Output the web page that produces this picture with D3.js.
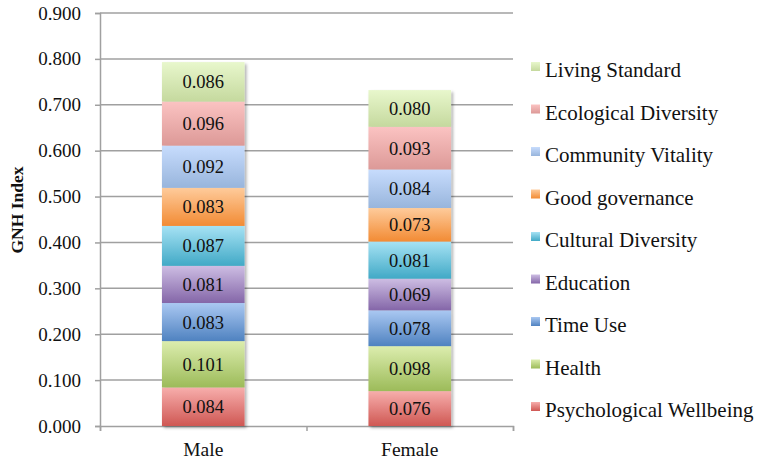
<!DOCTYPE html>
<html>
<head>
<meta charset="utf-8">
<script src="https://cdn.jsdelivr.net/npm/d3@7"></script>
<style>
  body { margin: 0; background: #fff; }
  svg text { font-family: "Liberation Serif", "DejaVu Serif", serif; fill: #111; }
</style>
</head>
<body>
<svg id="chart" width="758" height="462"></svg>
<script>
'use strict';

const categories = ['Male', 'Female'];
const domains = ['Psychological Wellbeing', 'Health', 'Time Use', 'Education', 'Cultural Diversity',
  'Good governance', 'Community Vitality', 'Ecological Diversity', 'Living Standard'];
const maleValues = [0.084, 0.101, 0.083, 0.081, 0.087, 0.083, 0.092, 0.096, 0.086];
const femaleValues = [0.076, 0.098, 0.078, 0.069, 0.081, 0.073, 0.084, 0.093, 0.080];
const yTicks = [0, 0.1, 0.2, 0.3, 0.4, 0.5, 0.6, 0.7, 0.8, 0.9];

// top / bottom colours of each segment gradient
const palette = [
  ['#f7aeac', '#cf5753'],
  ['#dcedae', '#9cbb59'],
  ['#aac8f2', '#4f82c0'],
  ['#cdbde3', '#8466a8'],
  ['#a6e2f4', '#41a9c6'],
  ['#fecb9b', '#f28b34'],
  ['#c7dcfd', '#98b5dc'],
  ['#fbc3c2', '#dc9997'],
  ['#e8f7cc', '#c5d99e']
];

const FONT = '"Liberation Serif", "DejaVu Serif", serif';
const svg = d3.select('#chart');
const margin = { left: 100, right: 245, top: 13, bottom: 36 };
const width = 758 - margin.left - margin.right;
const height = 462 - margin.top - margin.bottom;

const defs = svg.append('defs');
palette.forEach((c, i) => {
  const grad = defs.append('linearGradient').attr('id', 'grad' + i)
    .attr('x1', 0).attr('y1', 0).attr('x2', 0).attr('y2', 1);
  grad.append('stop').attr('offset', '0%').attr('stop-color', c[0]);
  grad.append('stop').attr('offset', '100%').attr('stop-color', c[1]);
});
const shadow = defs.append('filter').attr('id', 'shadow')
  .attr('x', '-20%').attr('y', '-5%').attr('width', '140%').attr('height', '110%');
shadow.append('feDropShadow').attr('dx', 2).attr('dy', 2).attr('stdDeviation', 1.5)
  .attr('flood-color', '#000').attr('flood-opacity', 0.3);

const g = svg.append('g').attr('transform', `translate(${margin.left},${margin.top})`);

const x = d3.scaleBand().domain(categories).range([0, width]).paddingInner(0.6).paddingOuter(0.3);
const y = d3.scaleLinear().domain([0, 0.9]).range([height, 0]);

// gridlines
g.append('g').selectAll('line').data(yTicks.slice(1)).join('line')
  .attr('x1', 0).attr('x2', width)
  .attr('y1', d => y(d)).attr('y2', d => y(d))
  .attr('stroke', '#a0a0a0').attr('stroke-width', 1.5);

// y axis
const yAxis = g.append('g')
  .call(d3.axisLeft(y).tickValues(yTicks).tickFormat(d3.format('.3f')).tickSize(5).tickPadding(14));
yAxis.select('.domain').attr('stroke', '#a0a0a0').attr('stroke-width', 1.5);
yAxis.selectAll('.tick line').attr('stroke', '#a0a0a0').attr('stroke-width', 1.5);
yAxis.selectAll('.tick text').attr('font-size', 19).style('font-family', FONT).attr('fill', '#111');

// x axis: baseline with ticks at the band boundaries
g.append('g').attr('transform', `translate(0,${height})`)
  .call(d3.axisBottom(d3.scaleLinear().domain([0, 2]).range([0, width])).tickValues([0, 1, 2]).tickSize(5).tickFormat(''))
  .call(a => a.selectAll('line, path').attr('stroke', '#a0a0a0').attr('stroke-width', 1.5));
const xAxis = g.append('g').attr('transform', `translate(0,${height})`)
  .call(d3.axisBottom(x).tickSize(0).tickPadding(16));
xAxis.select('.domain').remove();
xAxis.selectAll('.tick text').attr('font-size', 19.5).style('font-family', FONT).attr('fill', '#111');

// stacked bars
const seriesValues = [maleValues, femaleValues];
categories.forEach((cat, ci) => {
  const vals = seriesValues[ci];
  const bar = g.append('g').attr('filter', 'url(#shadow)');
  let acc = 0;
  const segs = vals.map((v, i) => {
    const s = { i, y0: acc, y1: acc + v, v };
    acc += v;
    return s;
  });
  bar.selectAll('rect').data(segs).join('rect')
    .attr('x', x(cat)).attr('width', x.bandwidth())
    .attr('y', d => y(d.y1)).attr('height', d => y(d.y0) - y(d.y1))
    .attr('fill', d => `url(#grad${d.i})`);
  g.append('g').selectAll('text').data(segs).join('text')
    .attr('x', x(cat) + x.bandwidth() / 2)
    .attr('y', d => (y(d.y0) + y(d.y1)) / 2)
    .attr('dy', '0.35em').attr('text-anchor', 'middle').attr('font-size', 18.5)
    .text(d => d.v.toFixed(3));
});

// y title
svg.append('text')
  .attr('transform', 'translate(23,210) rotate(-90)')
  .attr('text-anchor', 'middle').attr('font-size', 17.5).attr('font-weight', 'bold')
  .text('GNH Index');

// legend (top item is the last domain)
const legend = svg.append('g').attr('transform', 'translate(531,71)');
const items = domains.map((d, i) => ({ d, i })).reverse();
const li = legend.selectAll('g').data(items).join('g')
  .attr('transform', (d, k) => `translate(0,${k * 42.5})`);
li.append('rect').attr('x', 0).attr('y', -9).attr('width', 9).attr('height', 9)
  .attr('fill', d => `url(#grad${d.i})`);
li.append('text').attr('x', 14).attr('y', 0).attr('dy', '0.3em').attr('font-size', 21)
  .text(d => d.d);
</script>
</body>
</html>
